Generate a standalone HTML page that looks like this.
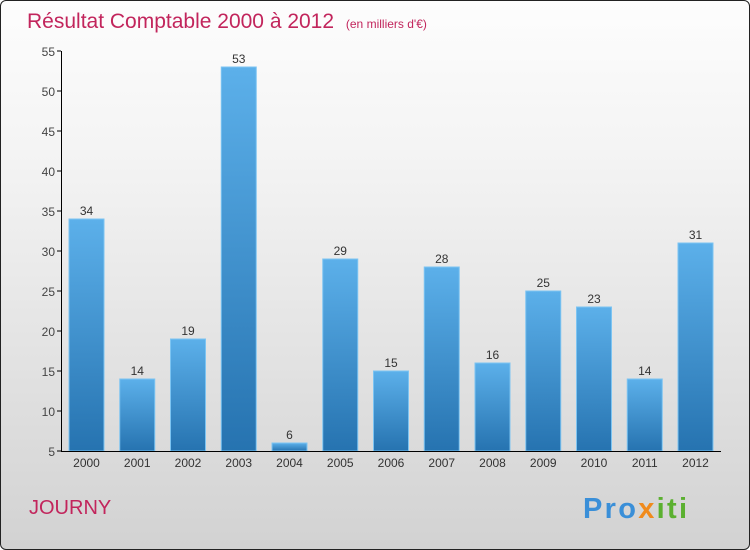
<!DOCTYPE html>
<html><head><meta charset="utf-8"><style>
body{margin:0;width:750px;height:550px;overflow:hidden;font-family:"Liberation Sans",sans-serif}
#frame{position:absolute;left:0;top:0;width:748px;height:548px;border:1px solid #222;border-radius:6px;background:linear-gradient(#fdfdfd,#f3f3f3 30%,#d2d2d2);overflow:hidden}
</style></head><body>
<div id="frame">
<svg id="chart" width="750" height="550">
<defs><linearGradient id="bg" x1="0" y1="0" x2="0" y2="1"><stop offset="0" stop-color="#5cb0ea"/><stop offset="1" stop-color="#2673b0"/></linearGradient></defs>
<text x="26" y="27" font-size="21" fill="#c2255c">Résultat Comptable 2000 à 2012 <tspan font-size="12" dx="6">(en milliers d'€)</tspan></text>
<text x="28" y="513" font-size="20" fill="#c2255c">JOURNY</text>
<text x="582" y="517" font-size="29" font-weight="bold" fill="#3a8fd8" textLength="104">Pro<tspan fill="#f08a1c">x</tspan><tspan fill="#5bb030">iti</tspan></text>
<g id="plot"></g>
</svg></div>
<script>
const years=["2000","2001","2002","2003","2004","2005","2006","2007","2008","2009","2010","2011","2012"];
const values=[34,14,19,53,6,29,15,28,16,25,23,14,31];
const yTicks=[5,10,15,20,25,30,35,40,45,50,55];
const ns="http://www.w3.org/2000/svg";
const g=document.getElementById('plot');
const y=v=>450-(v-5)*8;
const xc=i=>85.5+i*50.75;
function mk(t,a){const e=document.createElementNS(ns,t);for(const k in a)e.setAttribute(k,a[k]);g.appendChild(e);return e;}
yTicks.forEach(t=>{
 const l=mk('line',{x1:56,x2:60,y1:y(t),y2:y(t),stroke:'#000'});
 
 
 const tx=mk('text',{x:54,y:y(t)+5,'text-anchor':'end','font-size':12,fill:'#444'});tx.textContent=t;
 
 
});
values.forEach((v,i)=>{
 const r=mk('rect',{x:xc(i)-17.5,y:y(v),width:35,height:450-y(v),fill:'url(#bg)',stroke:'#7cc4f2','stroke-width':1});
 
 
 const vl=mk('text',{x:xc(i),y:y(v)-4,'text-anchor':'middle','font-size':12,fill:'#333'});vl.textContent=v;
 
 
 const xl=mk('text',{x:xc(i),y:466,'text-anchor':'middle','font-size':12,fill:'#333'});xl.textContent=years[i];
 
 
});
const ax=mk('line',{x1:60.5,x2:60.5,y1:50,y2:450,stroke:'#000'});


const bx=mk('line',{x1:60,x2:720,y1:450.5,y2:450.5,stroke:'#000'});


</script>
</body></html>
